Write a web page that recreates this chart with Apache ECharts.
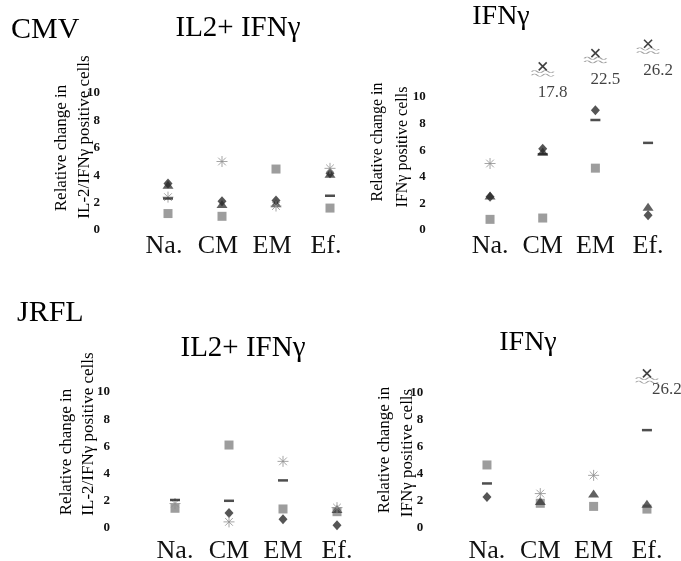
<!DOCTYPE html>
<html>
<head>
<meta charset="utf-8">
<script src="https://cdn.jsdelivr.net/npm/echarts@6/dist/echarts.min.js"></script>
<style>
  html, body { margin: 0; padding: 0; background: #fff; }
  #chart { width: 681px; height: 561px; }
</style>
</head>
<body>
<div id="chart"></div>
<script>
// --- data ---
const categories = ['Na.', 'CM', 'EM', 'Ef.'];

// CMV, IL2+ IFNγ
const cmvIl2Square   = [1.2, 1.0, 4.45, 1.6];
const cmvIl2Diamond  = [3.4, 2.1, 2.15, 4.15];
const cmvIl2Triangle = [3.3, 1.9, 1.95, 4.1];
const cmvIl2Star     = [2.4, 5.0, 1.75, 4.5];
const cmvIl2Mean     = [2.3, null, null, 2.5];

// CMV, IFNγ
const cmvIfnSquare   = [0.8, 0.9, 4.65, null];
const cmvIfnDiamond  = [2.5, 6.1, 9.0, 1.1];
const cmvIfnTriangle = [2.6, 5.9, null, 1.75];
const cmvIfnStar     = [5.0, null, null, null];
const cmvIfnMean     = [null, 5.7, 8.27, 6.55];
// off-scale points: where they are drawn above the break, and their real values
const cmvIfnBreakPos = [null, 12.3, 13.3, 14.0];
const cmvIfnBreakVal = [null, 17.8, 22.5, 26.2];

// JRFL, IL2+ IFNγ
const jrflIl2Square   = [1.45, 6.1, 1.4, 1.2];
const jrflIl2Diamond  = [null, 1.1, 0.65, 0.2];
const jrflIl2Triangle = [null, null, null, 1.4];
const jrflIl2Star     = [1.8, 0.45, 4.9, 1.5];
const jrflIl2Mean     = [2.06, 2.0, 3.5, null];

// JRFL, IFNγ
const jrflIfnSquare   = [4.67, 1.83, 1.6, 1.4];
const jrflIfnDiamond  = [2.3, null, null, null];
const jrflIfnTriangle = [null, 2.0, 2.55, 1.8];
const jrflIfnStar     = [null, 2.55, 3.9, null];
const jrflIfnMean     = [3.3, null, null, 7.25];
const jrflIfnBreakPos = [null, null, null, 11.45];
const jrflIfnBreakVal = [null, null, null, 26.2];

const yTicks = [0, 2, 4, 6, 8, 10];

// --- styles ---
const SERIF = '"Liberation Serif", "DejaVu Serif", serif';
const starPath = 'path://M5,0L5,10M0,5L10,5M1.5,1.5L8.5,8.5M8.5,1.5L1.5,8.5';
const crossPath = 'path://M0,0L10,10M10,0L0,10';
const wavePath = 'path://M0,2Q2.5,0 5,2T10,2T15,2T20,2M0,5Q2.5,3 5,5T10,5T15,5T20,5';

const pts = arr => arr.map((v, i) => (v == null ? null : [i, v])).filter(Boolean);

function panelSeries(gi, sq, dia, tri, star, mean) {
  const base = { type: 'scatter', xAxisIndex: gi, yAxisIndex: gi, silent: true };
  return [
    { ...base, data: pts(sq), symbol: 'rect', symbolSize: [9, 9], itemStyle: { color: '#858585' } },
    { ...base, data: pts(tri), symbol: 'triangle', symbolSize: [11, 8], itemStyle: { color: '#3a3a3a' } },
    { ...base, data: pts(dia), symbol: 'diamond', symbolSize: [9, 10], itemStyle: { color: '#2b2b2b' } },
    { ...base, data: pts(star), symbol: starPath, symbolSize: 11,
      itemStyle: { color: 'transparent', borderColor: '#8f8f8f', borderWidth: 1 } },
    { ...base, data: pts(mean), symbol: 'rect', symbolSize: [10, 2.5], itemStyle: { color: '#222' } }
  ];
}

function breakSeries(gi, pos, vals, offset) {
  const base = { type: 'scatter', xAxisIndex: gi, yAxisIndex: gi, silent: true };
  const data = pos.map((p, i) => (p == null ? null : { value: [i, p], realValue: vals[i] })).filter(Boolean);
  return [
    { ...base, data: data, symbol: wavePath, symbolSize: [22, 6], symbolOffset: [0, 7],
      itemStyle: { color: 'transparent', borderColor: '#888', borderWidth: 1 } },
    { ...base, data: data, symbol: crossPath, symbolSize: 8,
      itemStyle: { color: 'transparent', borderColor: '#111', borderWidth: 1.6 },
      label: {
        show: true, position: 'bottom', offset: offset,
        formatter: p => p.data.realValue.toFixed(1),
        fontFamily: SERIF, fontSize: 17, color: '#111'
      } }
  ];
}

// grid boxes: [left, top, width, height]
const boxes = [
  [141, 93, 216, 137],
  [463.7, 30.5, 210.7, 199.5],
  [148, 392, 216, 136],
  [460.3, 366, 213.3, 162]
];
const yMax = [10, 15, 10, 12];
const yLabelMargin = [41, 38, 38, 37];
const xLabelMargin = [3, 3, 10, 10];
const xLabelShift = [8, 0, 0, 0];

const chart = echarts.init(document.getElementById('chart'));

const title = (text, x, y, size, align) => ({
  type: 'text', x: x, y: y,
  style: { text: text, font: size + 'px ' + SERIF, fill: '#000', align: align || 'center', verticalAlign: 'middle' }
});
// rotated axis-name line, centred on (x, y)
const yName = (text, x, y, size) => ({
  type: 'text', x: x, y: y, rotation: Math.PI / 2,
  style: { text: text, font: size + 'px ' + SERIF, fill: '#000', align: 'center', verticalAlign: 'middle' }
});

const option = {
  animation: false,
  backgroundColor: '#fff',
  grid: boxes.map(b => ({
    left: b[0], top: b[1], width: b[2], height: b[3],
    containLabel: false, outerBoundsMode: 'none'
  })),
  xAxis: boxes.map((b, i) => ({
    type: 'category', gridIndex: i, data: categories,
    axisLine: { show: false }, axisTick: { show: false }, splitLine: { show: false },
    axisLabel: {
      margin: xLabelMargin[i], fontFamily: SERIF, fontSize: 26, color: '#111',
      padding: [0, xLabelShift[i], 0, 0]
    }
  })),
  yAxis: boxes.map((b, i) => ({
    type: 'value', gridIndex: i, min: 0, max: yMax[i], interval: 2,
    axisLine: { show: false }, axisTick: { show: false }, splitLine: { show: false },
    axisLabel: {
      margin: yLabelMargin[i], fontFamily: SERIF, fontSize: 13, fontWeight: 'bold', color: '#111',
      formatter: v => (yTicks.includes(v) ? String(v) : '')
    }
  })),
  graphic: [
    title('CMV', 11, 30, 30, 'left'),
    title('JRFL', 17, 313, 30, 'left'),
    title('IL2+ IFNγ', 238, 28, 29),
    title('IFNγ', 501, 17, 28),
    title('IL2+ IFNγ', 243, 348, 29),
    title('IFNγ', 528, 343, 28),
    yName('Relative change in', 62, 148, 17),
    yName('IL-2/IFNγ positive cells', 85, 137, 17),
    yName('Relative change in', 378, 142, 16),
    yName('IFNγ positive cells', 403, 147, 16),
    yName('Relative change in', 67, 452, 17),
    yName('IL-2/IFNγ positive cells', 89, 434, 17),
    yName('Relative change in', 385, 450, 17),
    yName('IFNγ positive cells', 408, 453, 17)
  ],
  series: [
    ...panelSeries(0, cmvIl2Square, cmvIl2Diamond, cmvIl2Triangle, cmvIl2Star, cmvIl2Mean),
    ...panelSeries(1, cmvIfnSquare, cmvIfnDiamond, cmvIfnTriangle, cmvIfnStar, cmvIfnMean),
    ...breakSeries(1, cmvIfnBreakPos, cmvIfnBreakVal, [10, 8]),
    ...panelSeries(2, jrflIl2Square, jrflIl2Diamond, jrflIl2Triangle, jrflIl2Star, jrflIl2Mean),
    ...panelSeries(3, jrflIfnSquare, jrflIfnDiamond, jrflIfnTriangle, jrflIfnStar, jrflIfnMean),
    ...breakSeries(3, jrflIfnBreakPos, jrflIfnBreakVal, [20, -2])
  ]
};

chart.setOption(option);
window.addEventListener('resize', () => chart.resize());
</script>
</body>
</html>
